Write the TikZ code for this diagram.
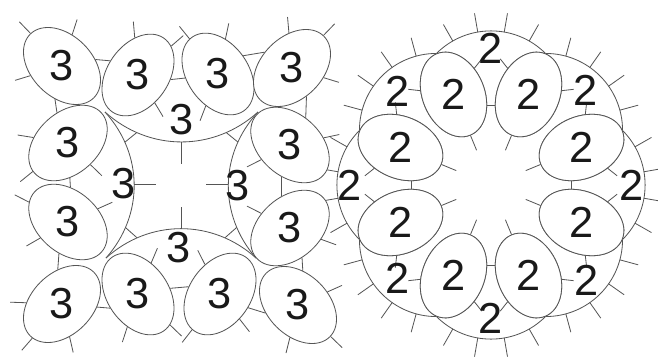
\documentclass[tikz,border=0pt]{standalone}
\usepackage{fontspec}
\setmainfont{Liberation Sans}
\usepackage{tikz}
\usetikzlibrary{calc,shapes.geometric,decorations.markings}
\definecolor{threadgray}{RGB}{85, 85, 85}
\tikzset{
 ring/.style={
 ellipse,
 draw=threadgray,
 fill=white,
 line width=0.7pt,
 inner sep=0pt,
 minimum width=2.7cm,
 minimum height=1.84cm
 },
 roundring/.style={ring, minimum width=2.64cm, minimum height=1.86cm},
 numtext/.style={inner sep=1pt, font=\fontsize{37}{37}\selectfont, text=black!90},
 chainline/.style={draw=threadgray, line width=0.7pt},
 picot/.style={draw=threadgray, line width=0.7pt},
 outpicots/.style={postaction={decorate}, decoration={markings,
 mark=at position .17 with {\draw[picot] (0,0) -- (0,-19);},
 mark=at position .39 with {\draw[picot] (0,0) -- (0,-19);},
 mark=at position .61 with {\draw[picot] (0,0) -- (0,-19);},
 mark=at position .83 with {\draw[picot] (0,0) -- (0,-19);}}}
}
% ring: name, x, y, angle, count, picot directions
\newcommand\sqring[6]{%
 \node[ring, rotate=#4] (#1) at (#2,-#3) {};
 \node[numtext] (#1n) at (#1.center) {#5};
 \foreach \p in {#6}{%
 \pgfmathtruncatemacro\al{\p-#4}%
 \draw[picot] (#1.\al) -- ++(\p:16);}%
}

\begin{document}
\begin{tikzpicture}[x=0.03cm, y=0.03cm]
 \useasboundingbox (0,0) rectangle (658,-361);

 % square motif, inner chains
 \coordinate (Jtl) at (105,-112);
 \coordinate (Jbl) at (106,-258);
 \coordinate (Jbr) at (256,-258);
 \coordinate (Jtr) at (258,-112);
 \draw[chainline] (Jtl) to[bend left=42] coordinate[pos=.22] (l1) coordinate[pos=.5] (l2) coordinate[pos=.78] (l3) (Jbl);
 \draw[chainline] (Jbl) to[bend left=42] coordinate[pos=.22] (b1) coordinate[pos=.5] (b2) coordinate[pos=.78] (b3) (Jbr);
 \draw[chainline] (Jbr) to[bend left=42] coordinate[pos=.22] (r1) coordinate[pos=.5] (r2) coordinate[pos=.78] (r3) (Jtr);
 \draw[chainline] (Jtr) to[bend left=42] coordinate[pos=.22] (t1) coordinate[pos=.5] (t2) coordinate[pos=.78] (t3) (Jtl);
 \draw[picot] (l2) -- ++(0:22);
 \draw[picot] (b2) -- ++(90:22);
 \draw[picot] (r2) -- ++(180:22);
 \draw[picot] (t2) -- ++(270:22);
 \draw[picot] (l1) -- (t3);
 \draw[picot] (l3) -- (b1);
 \draw[picot] (b3) -- (r1);
 \draw[picot] (r3) -- (t1);

 % round motif, outer chains
 \coordinate (C2) at (491,-185);
 \foreach \a [count=\i] in {22.5,67.5,...,337.5}
 \node[roundring, rotate=\a] (P\i) at ($(C2)+(\a:98)$) {};
 \foreach \i/\j in {1/2,2/3,3/4,4/5,5/6,6/7,7/8,8/1}
 \draw[chainline, outpicots] (P\i.0) to[bend right=45] (P\j.0);
 \foreach \a [count=\i] in {22.5,67.5,...,337.5}{
 \node[roundring, rotate=\a] (Q\i) at (P\i.center) {};
 \node[numtext] (Q\i n) at (Q\i.center) {2};
 \draw[picot] (Q\i.180) -- ++(\a+180:16);
 \draw[picot] (Q\i.61) -- ++(\a+61:12);
 \draw[picot] (Q\i.-61) -- ++(\a-61:12);
 }
 \draw[picot] (Q8.130) -- (Q1.-130);
 \draw[picot] (Q2.130) -- (Q3.-130);
 \draw[picot] (Q4.130) -- (Q5.-130);
 \draw[picot] (Q6.130) -- (Q7.-130);
 \foreach \a/\r [count=\k] in {0/141,45/134,90/137,135/132,180/141,225/132,270/133,315/135}
 \node[numtext] (c\k) at ($(C2)+(\a:\r)$) {2};

 % square motif rings
 \sqring{R1}{62}{66}{135}{3}{134,72,197}
 \sqring{R2}{138}{75}{55}{3}{95,41,-59}
 \sqring{R3}{218}{74}{125}{3}{129,78,249}
 \sqring{R4}{292}{68}{45}{3}{46,95,-17}
 \sqring{R5}{68}{143}{222}{3}{171,219,316}
 \sqring{R6}{68}{222}{138}{3}{153,210,24}
 \sqring{R7}{62}{304}{225}{3}{178,229,283}
 \sqring{R8}{138}{294}{305}{3}{252,316,67}
 \sqring{R9}{220}{294}{235}{3}{232,308,117}
 \sqring{R10}{298}{305}{315}{3}{256,316,24}
 \sqring{R11}{290}{145}{318}{3}{207,12}
 \sqring{R12}{290}{228}{42}{3}{153,340}
 \draw[picot] (R1.-124) -- (R2.98);
 \draw[picot] (R1.123) -- (R5.-112);
 \draw[picot] (R2.-63) -- (R3.62);
 \draw[picot] (R3.-89) -- (R4.105);
 \draw[picot] (R4.-108) -- (R11.102);
 \draw[picot] (R5.51) -- (R6.-52);
 \draw[picot] (R6.116) -- (R7.-128);
 \draw[picot] (R7.130) -- (R8.-98);
 \draw[picot] (R8.65) -- (R9.-68);
 \draw[picot] (R9.99) -- (R10.-121);
 \draw[picot] (R10.127) -- (R12.-110);
 \draw[picot] (R11.-63) -- (R12.63);

 \node[numtext] (labT) at (182,-120) {3};
 \node[numtext] (labL) at (124,-184) {3};
 \node[numtext] (labR) at (238,-186) {3};
 \node[numtext] (labB) at (179,-248) {3};
\end{tikzpicture}
\end{document}
